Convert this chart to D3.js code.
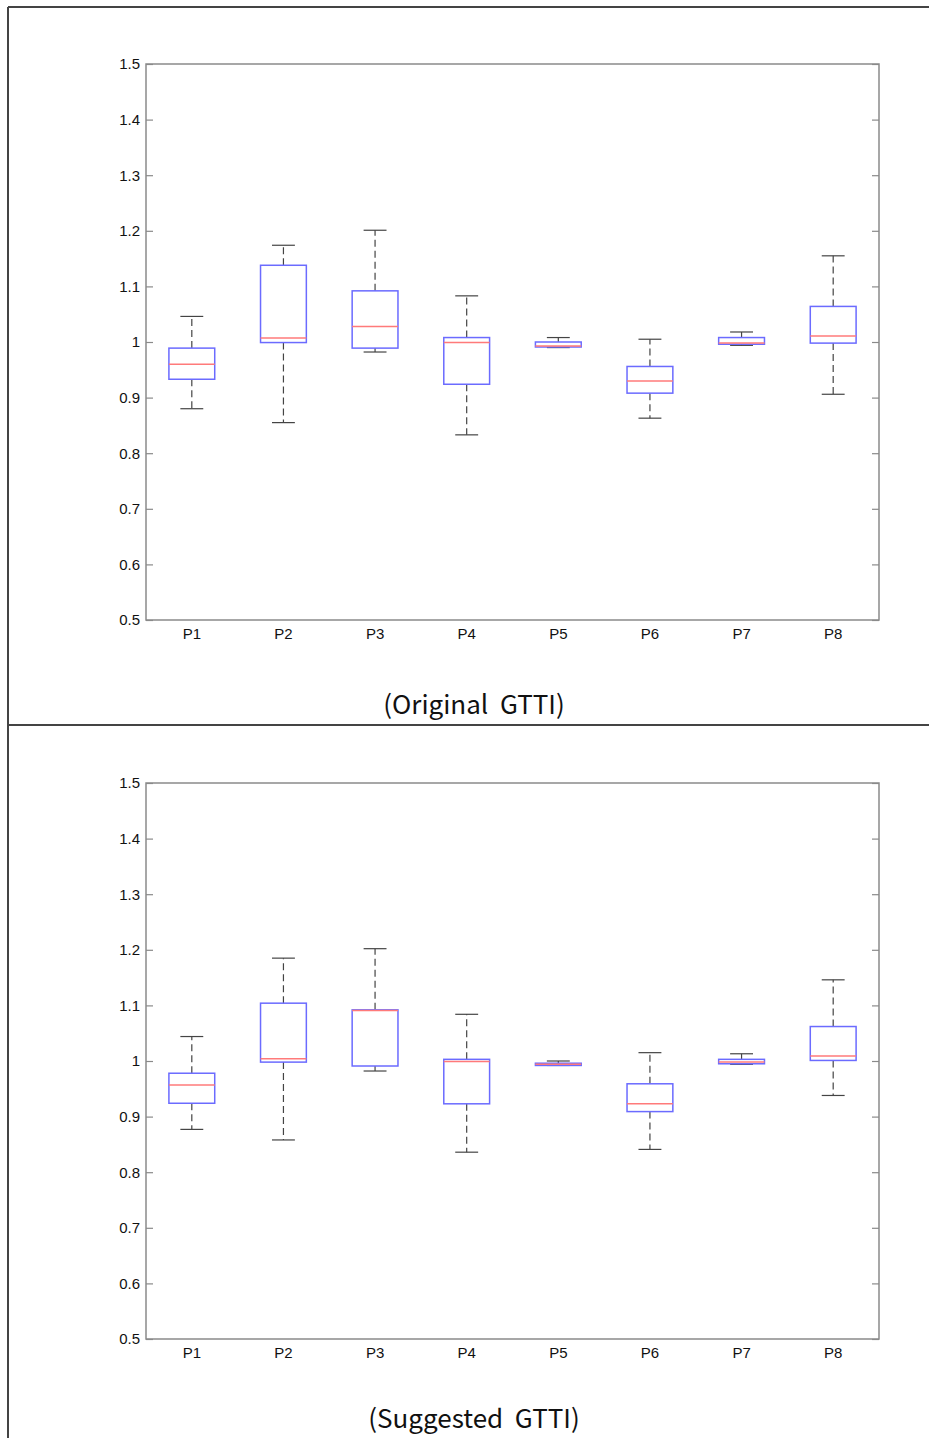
<!DOCTYPE html>
<html>
<head>
<meta charset="utf-8">
<script src="https://cdn.jsdelivr.net/npm/d3@7"></script>
<style>
  body { margin: 0; background: #fff; }
  svg { display: block; }
  .tick-label { font-family: "Liberation Sans", Arial, sans-serif; font-size: 15px; fill: #111; }
  .caption { font-family: "Noto Sans CJK KR", "Noto Sans", sans-serif; font-size: 26px; fill: #111; }
</style>
</head>
<body>
<svg id="chart" width="929" height="1438"></svg>
<script>
// categories + tick labels
const categories = ["P1", "P2", "P3", "P4", "P5", "P6", "P7", "P8"];
const yTicks = [0.5, 0.6, 0.7, 0.8, 0.9, 1.0, 1.1, 1.2, 1.3, 1.4, 1.5];

// original GTTI: lower whisker, q1, median, q3, upper whisker
const origLow = [0.880, 0.855, 0.982, 0.833, 0.990, 0.863, 0.994, 0.906];
const origQ1  = [0.933, 0.999, 0.989, 0.924, 0.991, 0.908, 0.996, 0.998];
const origMed = [0.960, 1.007, 1.028, 0.999, 0.993, 0.930, 0.998, 1.011];
const origQ3  = [0.989, 1.138, 1.092, 1.008, 1.000, 0.956, 1.008, 1.064];
const origHigh= [1.046, 1.174, 1.201, 1.083, 1.008, 1.005, 1.018, 1.155];

// suggested GTTI
const sugLow = [0.877, 0.858, 0.982, 0.836, 0.992, 0.841, 0.994, 0.938];
const sugQ1  = [0.924, 0.998, 0.991, 0.923, 0.992, 0.909, 0.995, 1.001];
const sugMed = [0.957, 1.004, 1.091, 0.999, 0.994, 0.923, 0.998, 1.009];
const sugQ3  = [0.978, 1.104, 1.092, 1.003, 0.996, 0.959, 1.003, 1.062];
const sugHigh= [1.044, 1.185, 1.202, 1.084, 1.000, 1.015, 1.013, 1.146];

const panels = [
  { top: 64, caption: "(Original  GTTI)", captionY: 714,
    low: origLow, q1: origQ1, med: origMed, q3: origQ3, high: origHigh },
  { top: 783, caption: "(Suggested  GTTI)", captionY: 1428,
    low: sugLow, q1: sugQ1, med: sugMed, q3: sugQ3, high: sugHigh }
];

const svg = d3.select("#chart");

// outer frame (left edge, top edge, separator)
const frame = svg.append("g").attr("stroke", "#444").attr("stroke-width", 2);
frame.append("line").attr("x1", 8).attr("y1", 7).attr("x2", 8).attr("y2", 1438);
frame.append("line").attr("x1", 8).attr("y1", 7).attr("x2", 929).attr("y2", 7);
frame.append("line").attr("x1", 8).attr("y1", 725).attr("x2", 929).attr("y2", 725);

const left = 146, right = 879, plotH = 556;

const x = d3.scaleBand().domain(categories).range([left, right]);
const bw = x.bandwidth();

for (let p of panels) {
  const y = d3.scaleLinear().domain([0.5, 1.5]).range([p.top + plotH, p.top]);
  const g = svg.append("g");

  // axes box
  g.append("rect")
    .attr("x", left).attr("y", p.top)
    .attr("width", right - left).attr("height", plotH)
    .attr("fill", "none").attr("stroke", "#8a8a8a").attr("stroke-width", 1.5);

  // left axis, ticks pointing inward
  const yAxisL = d3.axisLeft(y).tickValues(yTicks).tickSize(-7).tickPadding(12)
    .tickFormat(d => d3.format("~g")(d));
  const gl = g.append("g").attr("transform", `translate(${left},0)`).call(yAxisL);
  gl.select(".domain").remove();
  gl.selectAll(".tick line").attr("stroke", "#8a8a8a").attr("stroke-width", 1.2);
  gl.selectAll(".tick text").attr("class", "tick-label").attr("dx", 6);

  const yAxisR = d3.axisRight(y).tickValues(yTicks).tickSize(-7).tickFormat("");
  const gr = g.append("g").attr("transform", `translate(${right},0)`).call(yAxisR);
  gr.select(".domain").remove();
  gr.selectAll(".tick line").attr("stroke", "#8a8a8a").attr("stroke-width", 1.2);

  // category labels
  g.selectAll(".cat").data(categories).join("text")
    .attr("class", "tick-label")
    .attr("x", d => x(d) + bw / 2)
    .attr("y", p.top + plotH + 19)
    .attr("text-anchor", "middle")
    .text(d => d);

  const idx = d3.range(categories.length);
  const cx = i => x(categories[i]) + bw / 2;

  // whiskers
  g.selectAll(".wup").data(idx).join("line")
    .attr("x1", cx).attr("x2", cx)
    .attr("y1", i => y(p.q3[i])).attr("y2", i => y(p.high[i]))
    .attr("stroke", "#444").attr("stroke-width", 1.2).attr("stroke-dasharray", "7,4");
  g.selectAll(".wdn").data(idx).join("line")
    .attr("x1", cx).attr("x2", cx)
    .attr("y1", i => y(p.q1[i])).attr("y2", i => y(p.low[i]))
    .attr("stroke", "#444").attr("stroke-width", 1.2).attr("stroke-dasharray", "7,4");

  // caps
  const capW = bw * 0.25;
  for (let key of ["high", "low"]) {
    g.selectAll(".cap-" + key).data(idx).join("line")
      .attr("x1", i => cx(i) - capW / 2).attr("x2", i => cx(i) + capW / 2)
      .attr("y1", i => y(p[key][i])).attr("y2", i => y(p[key][i]))
      .attr("stroke", "#444").attr("stroke-width", 1.2);
  }

  // boxes
  const boxW = bw * 0.5;
  g.selectAll(".box").data(idx).join("rect")
    .attr("x", i => cx(i) - boxW / 2)
    .attr("y", i => y(p.q3[i]))
    .attr("width", boxW)
    .attr("height", i => Math.max(0.5, y(p.q1[i]) - y(p.q3[i])))
    .attr("fill", "none").attr("stroke", "#6b6bff").attr("stroke-width", 1.5);

  // medians
  g.selectAll(".med").data(idx).join("line")
    .attr("x1", i => cx(i) - boxW / 2).attr("x2", i => cx(i) + boxW / 2)
    .attr("y1", i => y(p.med[i])).attr("y2", i => y(p.med[i]))
    .attr("stroke", "#ff7a7a").attr("stroke-width", 1.5);

  // caption
  svg.append("text").attr("class", "caption")
    .attr("x", 474).attr("y", p.captionY)
    .attr("text-anchor", "middle")
    .attr("xml:space", "preserve")
    .style("white-space", "pre")
    .text(p.caption);
}
</script>
</body>
</html>
